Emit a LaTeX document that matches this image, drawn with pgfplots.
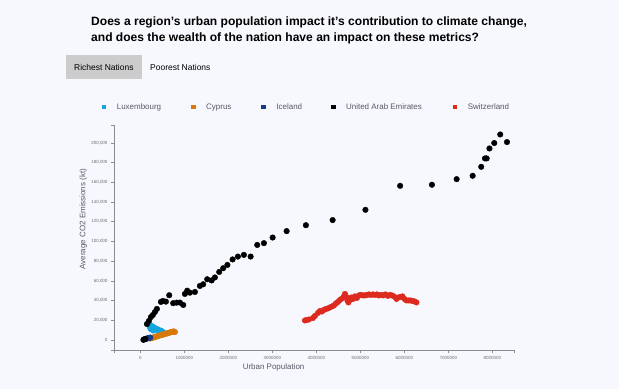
\documentclass[border=0pt]{standalone}
\usepackage{fontspec}
\setmainfont{Liberation Sans}
\usepackage{pgfplots}
\pgfplotsset{compat=1.18}
\definecolor{bg}{HTML}{F7F8FD}
\definecolor{btn}{HTML}{CCCCCC}
\definecolor{lux}{HTML}{14A4E0}
\definecolor{cyp}{HTML}{D7790A}
\definecolor{ice}{HTML}{1A3A85}
\definecolor{uae}{HTML}{000000}
\definecolor{swi}{HTML}{DC2A1E}
\definecolor{axgray}{HTML}{8C8C8C}
\definecolor{lblgray}{HTML}{555A66}
\definecolor{tickgray}{HTML}{6E6E6E}
\pgfplotsset{
  sq/.style={legend image code/.code={\fill[#1, draw=none] (0bp,-2.2bp) rectangle (4.4bp,2.2bp); \path[draw=none, fill=none] (0bp,0bp) -- (15bp,0bp);}},
  dots/.style={forget plot, only marks, color=#1, mark=*, mark size=2.8bp, mark options={solid, draw=#1, fill=#1}},
}
\begin{document}
\begin{tikzpicture}[x=1bp,y=1bp]
\path[use as bounding box, fill=bg] (0,0) rectangle (619,389);
\node[anchor=west, inner sep=0, font=\bfseries\fontsize{12.1}{14}\selectfont] at (91,367) {Does a region's urban population impact it's contribution to climate change,};
\node[anchor=west, inner sep=0, font=\bfseries\fontsize{12.1}{14}\selectfont] at (91,351) {and does the wealth of the nation have an impact on these metrics?};
\fill[btn] (66,310) rectangle (142,334);
\node[anchor=west, inner sep=0, font=\fontsize{8.5}{10}\selectfont] at (74,322) {Richest Nations};
\node[anchor=west, inner sep=0, font=\fontsize{8.5}{10}\selectfont] at (150,322) {Poorest Nations};
\begin{axis}[
  at={(114bp,39bp)}, anchor=south west,
  scale only axis, width=400bp, height=225bp,
  xmin=-600000, xmax=8490000, ymin=-10150, ymax=218000,
  axis x line*=bottom, axis y line*=left,
  axis line style={axgray, -},
  tick style={axgray, thin},
  tick align=outside, major tick length=3bp,
  xtick={0,1000000,2000000,3000000,4000000,5000000,6000000,7000000,8000000},
  ytick={0,20000,40000,60000,80000,100000,120000,140000,160000,180000,200000},
  extra x ticks={-600000,8490000}, extra x tick labels={},
  extra y ticks={-10150,218000}, extra y tick labels={},
  extra tick style={tick style={axgray, thin}},
  scaled x ticks=false, scaled y ticks=false,
  xticklabel style={/pgf/number format/.cd, fixed, 1000 sep={}, assume math mode=true},
  yticklabel style={/pgf/number format/.cd, fixed, 1000 sep={,}, assume math mode=true},
  tick label style={font=\fontsize{4.5}{5}\selectfont, text=tickgray},
  xlabel={Urban Population},
  ylabel={Average CO2 Emissions (kt)},
  xlabel style={at={([yshift=-17.7bp]axis description cs:0.399,0)}, anchor=center, font=\fontsize{8}{9}\selectfont, text=lblgray},
  ylabel style={at={([xshift=-30.7bp]axis description cs:0,0.582)}, anchor=center, font=\fontsize{8}{9}\selectfont, text=lblgray},
  clip=false,
  legend columns=5,
  legend style={at={(axis description cs:-0.0308,1.08)}, anchor=west, draw=none, fill=none,
    inner sep=0pt, nodes={inner sep=0pt, text depth=0pt}, cells={anchor=west},
    font=\fontsize{8}{9}\selectfont, text=lblgray},
]
\addlegendimage{sq=lux}
\addlegendentry{Luxembourg\hspace*{30bp}\null}
\addlegendimage{sq=cyp}
\addlegendentry{Cyprus\hspace*{30bp}\null}
\addlegendimage{sq=ice}
\addlegendentry{Iceland\hspace*{29bp}\null}
\addlegendimage{sq=uae}
\addlegendentry{United Arab Emirates\hspace*{31bp}\null}
\addlegendimage{sq=swi}
\addlegendentry{Switzerland}
% Luxembourg
\addplot[dots=lux] coordinates {
(182000,15700) (205000,15200) (216000,13700) (239000,14700) (250000,12700)
(273000,13700) (284000,11700) (307000,12700) (330000,11200) (352000,11700)
(375000,10200) (398000,10700) (420000,9600) (443000,9100) (466000,9600)
(489000,8600) (511000,8100) (227000,11700) (250000,10700) (295000,9600)
};
% Cyprus
\addplot[dots=cyp] coordinates {
(216000,1500) (239000,1800) (261000,2100) (284000,2400) (307000,2700)
(330000,3000) (352000,3400) (375000,3700) (398000,4000) (420000,4300)
(443000,4600) (466000,4900) (489000,5200) (511000,5500) (534000,5800)
(557000,6100) (580000,6400) (602000,6700) (625000,7000) (648000,7300)
(670000,7600) (693000,7900) (716000,8200) (739000,8600) (761000,8600) (784000,8100)
};
% Iceland
\addplot[dots=ice] coordinates {
(80000,500) (102000,1000) (125000,1200) (148000,1500) (170000,1800)
(193000,2000) (205000,2200) (225000,2500)
};
% United Arab Emirates
\addplot[dots=uae] coordinates {
(68000,200) (114000,1000) (148000,16200) (193000,19300) (239000,23300)
(284000,25400) (330000,28400) (375000,31500) (466000,38600) (511000,39600)
(580000,38900) (655000,45400) (745000,37300) (823000,37900) (898000,37900)
(973000,35500) (1011000,46700) (1064000,50000) (1125000,48000) (1239000,48700)
(1352000,54800) (1427000,56500) (1518000,61600) (1618000,60400) (1693000,63400)
(1791000,69000) (1882000,72800) (1977000,76100) (2095000,81700) (2216000,84600)
(2352000,86300) (2505000,84600) (2655000,96400) (2807000,98200) (3005000,103900)
(3323000,110400) (3761000,116400) (4368000,121600) (5114000,132000) (5902000,156300)
(6625000,157400) (7186000,163100) (7550000,166500) (7745000,175600) (7830000,184100)
(7868000,184100) (7932000,194200) (8041000,199700) (8177000,208400) (8330000,200700)
};
% Switzerland
\addplot[dots=swi] coordinates {
(3739000,19800) (3784000,20300) (3830000,20800) (3920000,22300) (3966000,24400)
(4034000,27400) (4080000,29400) (4125000,28900) (4170000,30500) (4216000,31500)
(4261000,32000) (4307000,33000) (4352000,34000) (4398000,35000) (4443000,37100)
(4489000,38600) (4534000,40600) (4580000,42100) (4625000,44200) (4648000,46700)
(4682000,43700) (4705000,40100) (4727000,38100) (4761000,40600) (4795000,43100)
(4830000,41600) (4875000,44200) (4920000,42600) (4966000,45200) (5011000,45700)
(5057000,45200) (5102000,45200) (5148000,45700) (5193000,46200) (5239000,45700)
(5284000,46200) (5330000,45700) (5375000,46200) (5420000,45200) (5466000,45700)
(5511000,45200) (5568000,46200) (5625000,44700) (5670000,45700) (5716000,45200)
(5761000,44200) (5818000,41600) (5864000,43100) (5909000,43700) (5955000,44200)
(6000000,41600) (6045000,40100) (6091000,40100) (6136000,40100) (6182000,39600)
(6227000,39100) (6273000,38100)
};
\end{axis}
\end{tikzpicture}
\end{document}
